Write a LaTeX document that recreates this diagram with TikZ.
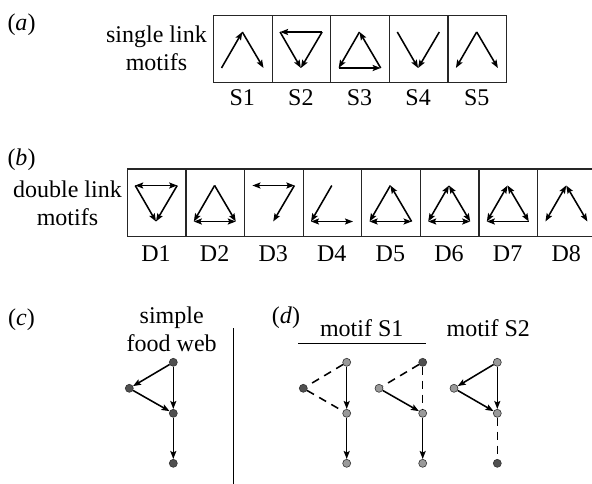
\documentclass[tikz,border=0pt]{standalone}
\usepackage{fontspec}
\setmainfont{Liberation Serif}
\usetikzlibrary{arrows.meta}
\definecolor{darkn}{HTML}{505050}
\definecolor{lightn}{HTML}{9A9A9A}
\tikzset{
  mbox/.style={draw=black!85, line width=1.25pt, minimum width=58.6pt, minimum height=67pt, anchor=north west, inner sep=0pt},
  lnk/.style={line width=1.55pt},
  dsh/.style={line width=1.55pt, dash pattern=on 8pt off 6pt},
  fw/.style={circle, draw=black!80, line width=0.6pt, inner sep=0pt, minimum size=8pt},
  dk/.style={fw, fill=darkn},
  lt/.style={fw, fill=lightn},
  txt/.style={font=\fontsize{24}{28}\selectfont, inner sep=0pt, align=center},
  >={Stealth[length=8pt,width=6pt,inset=1.5pt]}
}
\newcommand\mkmotif[3]{%
  \node[mbox] (#1) at (#2,#3) {};
  \coordinate (#1t) at (#2+29.3,#3+17);
  \coordinate (#1l) at (#2+8.5,#3+53);
  \coordinate (#1r) at (#2+50.5,#3+53);
  \coordinate (#1a) at (#2+8.5,#3+17);
  \coordinate (#1c) at (#2+50.5,#3+17);
  \coordinate (#1b) at (#2+29.3,#3+53);
}
\begin{document}
\begin{tikzpicture}[x=1pt,y=-1pt]
\useasboundingbox (0,0) rectangle (592,484);

% ---------- (a) ----------
\node[txt] (la) at (21.5,25) {(\textit{a})};
\node[txt, anchor=east] (ta) at (207,48.5) {single link\\motifs};
\mkmotif{s1}{213}{15}
\mkmotif{s2}{271.6}{15}
\mkmotif{s3}{330.2}{15}
\mkmotif{s4}{388.8}{15}
\mkmotif{s5}{447.4}{15}
\foreach \k [count=\i] in {213,271.6,330.2,388.8,447.4}
  \node[txt] (ls\i) at (\k+29.3,98) {S\i};
\draw[lnk,->] (s1l) -- (s1t);
\draw[lnk,->] (s1t) -- (s1r);
\draw[lnk,->] (s2c) -- (s2a);
\draw[lnk,->] (s2a) -- (s2b);
\draw[lnk,->] (s2c) -- (s2b);
\draw[lnk,->] (s3r) -- (s3t);
\draw[lnk,->] (s3t) -- (s3l);
\draw[lnk,->] (s3l) -- (s3r);
\draw[lnk,->] (s4a) -- (s4b);
\draw[lnk,->] (s4c) -- (s4b);
\draw[lnk,->] (s5t) -- (s5l);
\draw[lnk,->] (s5t) -- (s5r);

% ---------- (b) ----------
\node[txt] (lb) at (21.5,160) {(\textit{b})};
\node[txt, anchor=east] (tb) at (122,203) {double link\\motifs};
\mkmotif{d1}{126.7}{168.5}
\mkmotif{d2}{185.3}{168.5}
\mkmotif{d3}{243.9}{168.5}
\mkmotif{d4}{302.5}{168.5}
\mkmotif{d5}{361.1}{168.5}
\mkmotif{d6}{419.7}{168.5}
\mkmotif{d7}{478.3}{168.5}
\mkmotif{d8}{536.9}{168.5}
\foreach \k [count=\i] in {126.7,185.3,243.9,302.5,361.1,419.7,478.3,536.9}
  \node[txt] (ld\i) at (\k+29.3,254) {D\i};
% D1
\draw[lnk,<->] (d1a) -- (d1c);
\draw[lnk,->] (d1a) -- (d1b);
\draw[lnk,->] (d1c) -- (d1b);
% D2
\draw[lnk,->] (d2t) -- (d2l);
\draw[lnk,->] (d2t) -- (d2r);
\draw[lnk,<->] (d2l) -- (d2r);
% D3
\draw[lnk,<->] (d3a) -- (d3c);
\draw[lnk,->] (d3c) -- (d3b);
% D4
\draw[lnk,->] (d4t) -- (d4l);
\draw[lnk,<->] (d4l) -- (d4r);
% D5
\draw[lnk,->] (d5t) -- (d5l);
\draw[lnk,->] (d5r) -- (d5t);
\draw[lnk,<->] (d5l) -- (d5r);
% D6
\draw[lnk,<->] (d6t) -- (d6l);
\draw[lnk,<->] (d6t) -- (d6r);
\draw[lnk,<->] (d6l) -- (d6r);
% D7
\draw[lnk,<->] (d7t) -- (d7l);
\draw[lnk,<->] (d7t) -- (d7r);
\draw[lnk,->] (d7r) -- (d7l);
% D8
\draw[lnk,<->] (d8t) -- (d8l);
\draw[lnk,<->] (d8t) -- (d8r);

% ---------- (c) ----------
\node[txt] (lc) at (21.5,320) {(\textit{c})};
\node[txt] (tc) at (171.7,329) {simple\\food web};
\coordinate (vtop) at (233.3,328);
\coordinate (vbot) at (233.3,484);
\draw[line width=1.25pt] (vtop) -- (vbot);
\node[dk] (c1) at (173.3,362.3) {};
\node[dk] (c2) at (129.3,388.3) {};
\node[dk] (c3) at (173.3,413.3) {};
\node[dk] (c4) at (173.3,463.3) {};
\draw[lnk,->] (c1) -- (c2);
\draw[lnk,->] (c2) -- (c3);
\draw[lnk,->] (c1) -- (c3);
\draw[lnk,->] (c3) -- (c4);

% ---------- (d) ----------
\node[txt] (ld) at (286,318) {(\textit{d})};
\node[txt] (m1) at (361.7,328) {motif S1};
\node[txt] (m2) at (488.3,328) {motif S2};
\coordinate (hl) at (298.3,343.3);
\coordinate (hr) at (426,343.3);
\draw[line width=1.25pt] (hl) -- (hr);
% graph 1
\node[lt] (p1t) at (346.7,362.3) {};
\node[dk] (p1l) at (303.3,388.3) {};
\node[lt] (p1m) at (346.7,413.3) {};
\node[lt] (p1b) at (346.7,463.3) {};
\draw[dsh] (p1t) -- (p1l);
\draw[dsh] (p1l) -- (p1m);
\draw[lnk,->] (p1t) -- (p1m);
\draw[lnk,->] (p1m) -- (p1b);
% graph 2
\node[dk] (p2t) at (422.7,362.3) {};
\node[lt] (p2l) at (379,388.3) {};
\node[lt] (p2m) at (422.7,413.3) {};
\node[lt] (p2b) at (422.7,463.3) {};
\draw[dsh] (p2t) -- (p2l);
\draw[dsh] (p2t) -- (p2m);
\draw[lnk,->] (p2l) -- (p2m);
\draw[lnk,->] (p2m) -- (p2b);
% graph 3
\node[lt] (p3t) at (497.3,362.3) {};
\node[lt] (p3l) at (454,388.3) {};
\node[lt] (p3m) at (497.3,413.3) {};
\node[dk] (p3b) at (497.3,463.3) {};
\draw[lnk,->] (p3t) -- (p3l);
\draw[lnk,->] (p3l) -- (p3m);
\draw[lnk,->] (p3t) -- (p3m);
\draw[dsh] (p3m) -- (p3b);
\end{tikzpicture}
\end{document}
